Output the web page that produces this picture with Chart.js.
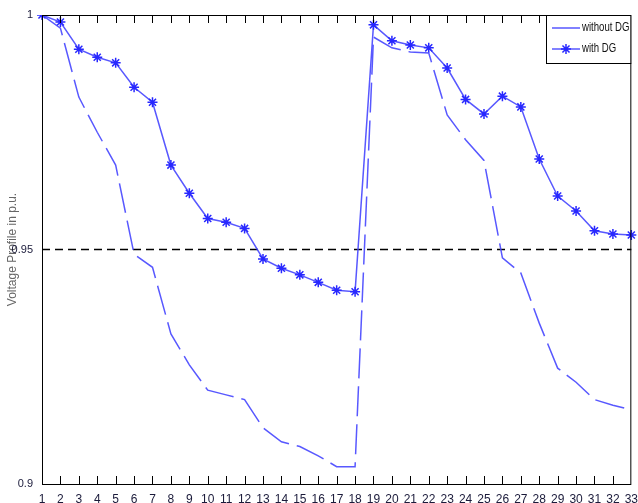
<!DOCTYPE html>
<html>
<head>
<meta charset="utf-8">
<script src="https://cdn.jsdelivr.net/npm/chart.js@4.4.1/dist/chart.umd.min.js"></script>
<style>
  html, body { margin: 0; padding: 0; background: #fff; }
  #wrap { width: 638px; height: 503px; }
</style>
</head>
<body>
<div id="wrap"><canvas id="chart1"></canvas></div>
<script>
const buses = ['1','2','3','4','5','6','7','8','9','10','11','12','13','14','15','16','17',
               '18','19','20','21','22','23','24','25','26','27','28','29','30','31','32','33'];

const withoutDG = [1.0, 0.9972, 0.9825, 0.975, 0.968, 0.949, 0.9462, 0.932, 0.9254, 0.920, 0.919,
                   0.918, 0.912, 0.909, 0.908, 0.906, 0.9037, 0.9037, 0.9953, 0.993, 0.9921, 0.9919,
                   0.9787, 0.9734, 0.969, 0.9482, 0.945, 0.9343, 0.9247, 0.9217, 0.918, 0.9168, 0.9158];

const withDG = [1.0, 0.9985, 0.9927, 0.991, 0.9898, 0.9846, 0.9814, 0.968, 0.962, 0.9566, 0.9558,
                0.9545, 0.948, 0.946, 0.9446, 0.943, 0.9413, 0.941, 0.9979, 0.9945, 0.9936, 0.993,
                0.9887, 0.982, 0.9789, 0.9827, 0.9804, 0.9693, 0.9614, 0.9582, 0.954, 0.9533, 0.9531];

const limit = buses.map(() => 0.95);

const lineBlue = 'rgba(70, 70, 255, 0.9)';
const tickFont = "'Liberation Sans Narrow', 'Liberation Sans', Arial, sans-serif";

// frame, inward ticks and the legend box, drawn like the matlab figure
const framePlugin = {
    id: 'frame',
    afterDraw(chart) {
        const ctx = chart.ctx;
        const a = chart.chartArea;
        const x = chart.scales.x;
        ctx.save();
        ctx.strokeStyle = '#000';
        ctx.lineWidth = 1;
        ctx.strokeRect(a.left + 0.5, a.top + 0.5, a.right - a.left - 1, a.bottom - a.top);
        ctx.beginPath();
        for (let i = 1; i < buses.length - 1; i++) {
            const px = Math.round(x.getPixelForTick(i)) + 0.5;
            ctx.moveTo(px, a.bottom);
            ctx.lineTo(px, a.bottom - 8);
            ctx.moveTo(px, a.top);
            ctx.lineTo(px, a.top + 8);
        }
        ctx.stroke();

        // legend
        const lx = 546, ly = a.top, lw = a.right - 546, lh = 48;
        ctx.fillStyle = '#fff';
        ctx.fillRect(lx, ly, lw, lh);
        ctx.strokeRect(lx + 0.5, ly + 0.5, lw - 1, lh);
        ctx.strokeStyle = lineBlue;
        ctx.lineWidth = 1.5;
        ctx.beginPath();
        ctx.moveTo(552, ly + 13); ctx.lineTo(580, ly + 13);
        ctx.moveTo(552, ly + 34); ctx.lineTo(580, ly + 34);
        ctx.stroke();
        ctx.restore();
        ctx.save();
        ctx.strokeStyle = 'rgba(40, 40, 255, 1)';
        ctx.lineWidth = 1.5;
        Chart.helpers.drawPoint(ctx, {pointStyle: 'star', radius: 5, borderWidth: 1.5}, 566, ly + 34);
        ctx.fillStyle = '#111';
        ctx.font = "12px " + tickFont;
        ctx.textBaseline = 'middle';
        ctx.translate(582, 0);
        ctx.scale(0.8, 1);
        ctx.fillText('without DG', 0, ly + 13);
        ctx.fillText('with DG', 0, ly + 34);
        ctx.restore();
    }
};

const ctx1 = document.getElementById('chart1').getContext('2d');
const chart1 = new Chart(ctx1, {
    type: 'line',
    data: {
        labels: buses,
        datasets: [{
            label: 'without DG',
            data: withoutDG,
            borderColor: lineBlue,
            borderWidth: 1.5,
            borderDash: [30, 8],
            pointRadius: 0,
            tension: 0
        }, {
            label: 'with DG',
            data: withDG,
            borderColor: lineBlue,
            borderWidth: 1.5,
            pointStyle: 'star',
            pointRadius: 5,
            pointBorderColor: 'rgba(40, 40, 255, 1)',
            pointBorderWidth: 1.5,
            tension: 0
        }, {
            label: 'limit',
            data: limit,
            borderColor: '#000',
            borderWidth: 1.5,
            borderDash: [8, 5],
            pointRadius: 0
        }]
    },
    options: {
        responsive: true,
        maintainAspectRatio: false,
        animation: false,
        layout: {
            padding: { left: 0, right: 6, top: 15, bottom: 0 }
        },
        scales: {
            x: {
                offset: false,
                grid: { display: false },
                border: { display: false },
                ticks: {
                    autoSkip: false,
                    maxRotation: 0,
                    padding: 0,
                    color: '#1a1a3a',
                    font: { family: tickFont, size: 12 }
                },
                afterFit: (s) => { s.height = 19; }
            },
            y: {
                min: 0.9,
                max: 1,
                grid: { display: false },
                border: { display: false },
                ticks: {
                    stepSize: 0.05,
                    padding: 1,
                    color: '#1a1a3a',
                    font: { family: tickFont, size: 11 },
                    callback: (v) => String(+v.toFixed(2))
                },
                title: {
                    display: true,
                    text: 'Voltage Profile in p.u.',
                    color: '#666',
                    padding: { top: 5, bottom: 0 },
                    font: { family: "'Liberation Sans', Arial, sans-serif", size: 12 }
                },
                afterFit: (s) => { s.width = 42; }
            }
        },
        plugins: {
            legend: { display: false },
            tooltip: { enabled: false }
        }
    },
    plugins: [framePlugin]
});
</script>
</body>
</html>
